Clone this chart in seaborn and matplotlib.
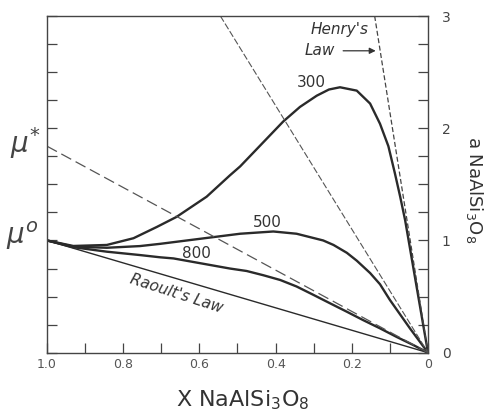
import numpy as np
import pandas as pd
import matplotlib
matplotlib.use("Agg")
import matplotlib.pyplot as plt
import seaborn as sns

# courbes (x = fraction molaire, y = activite)
x_300 = [1.0, 0.931, 0.843, 0.773, 0.712, 0.66, 0.581, 0.52, 0.493, 0.38, 0.336, 0.292, 0.26, 0.231,
         0.187, 0.152, 0.126, 0.104, 0.087, 0.073, 0.06, 0.03, 0.0]
y_300 = [1.0, 0.951, 0.96, 1.02, 1.12, 1.21, 1.39, 1.58, 1.66, 2.06, 2.19, 2.29, 2.345, 2.365,
         2.335, 2.22, 2.04, 1.84, 1.60, 1.39, 1.18, 0.59, 0.0]

x_500 = [1.0, 0.931, 0.843, 0.756, 0.703, 0.563, 0.493, 0.406, 0.345, 0.275, 0.248, 0.213,
         0.187, 0.152, 0.126, 0.10, 0.073, 0.047, 0.0]
y_500 = [1.0, 0.945, 0.935, 0.95, 0.97, 1.03, 1.06, 1.08, 1.06, 1.00, 0.96, 0.89,
         0.82, 0.71, 0.61, 0.47, 0.34, 0.215, 0.0]

x_800 = [1.0, 0.931, 0.843, 0.756, 0.703, 0.668, 0.52, 0.476, 0.432, 0.388, 0.345, 0.30,
         0.257, 0.213, 0.17, 0.126, 0.082, 0.039, 0.0]
y_800 = [1.0, 0.94, 0.90, 0.87, 0.85, 0.84, 0.75, 0.728, 0.69, 0.648, 0.59, 0.514,
         0.44, 0.365, 0.29, 0.217, 0.14, 0.069, 0.0]

# loi de Raoult et tangentes (droites passant par l'origine)
raoult_x = [1.0, 0.0]
raoult_y = [1.0, 0.0]
mu_star_x = [1.0, 0.0]
mu_star_y = [1.84, 0.0]
henry_x = [0.14, 0.0]
henry_y = [3.0, 0.0]
tang500_x = [0.545, 0.0]
tang500_y = [3.0, 0.0]

temperatures = ["300", "500", "800"]
xtick_vals = [1.0, 0.8, 0.6, 0.4, 0.2, 0.0]
xtick_labels = ["1.0", "0.8", "0.6", "0.4", "0.2", "0"]
ytick_labels = ["0", "1", "2", "3"]

df = pd.concat([
    pd.DataFrame({"x": x_300, "y": y_300, "T": "300"}),
    pd.DataFrame({"x": x_500, "y": y_500, "T": "500"}),
    pd.DataFrame({"x": x_800, "y": y_800, "T": "800"}),
])

sns.set_style("ticks")
plt.rcParams["font.family"] = ["DejaVu Sans"]

fig = plt.figure(figsize=(4.87, 4.18), dpi=100)
ax = fig.add_axes([47 / 487, 1 - 352.7 / 418, 381 / 487, 336.7 / 418])

for t in temperatures:
    sns.lineplot(data=df[df["T"] == t], x="x", y="y", sort=False, estimator=None,
                 color="#2a2a2a", lw=1.7, ax=ax, solid_joinstyle="round")

sns.lineplot(x=raoult_x, y=raoult_y, color="#2a2a2a", lw=1.0, ax=ax)
ax.plot(mu_star_x, mu_star_y, color="#555555", lw=0.9, ls=(0, (9, 4)))
ax.plot(henry_x, henry_y, color="#444444", lw=0.9, ls=(0, (4, 2)))
ax.plot(tang500_x, tang500_y, color="#555555", lw=0.8, ls=(0, (6, 2)))

ax.set_xlim(1.0, 0.0)
ax.set_ylim(0, 3)

ax.set_xticks(xtick_vals)
ax.set_xticklabels(xtick_labels, fontsize=9, color="#555555")
ax.set_xticks(np.arange(0.1, 1.0, 0.2), minor=True)

ticks_y = np.arange(0, 3.01, 0.25)
ax.set_yticks(ticks_y)
ax.set_yticklabels([ytick_labels[int(v)] if v == int(v) else "" for v in ticks_y],
                   fontsize=10, color="#444444")

ax.tick_params(axis="both", which="both", direction="in", length=7, width=0.9, color="#444444")
ax.tick_params(axis="y", left=True, right=True, labelleft=False, labelright=True, pad=10)
ax.tick_params(axis="x", top=False, pad=4)

for s in ax.spines.values():
    s.set_linewidth(1.0)
    s.set_color("#444444")

ax.set_xlabel("")
ax.set_ylabel("")

# annotations
ax.text(0.305, 2.41, "300", fontsize=11, ha="center", va="center", color="#333333")
ax.text(0.423, 1.16, "500", fontsize=11, ha="center", va="center", color="#333333")
ax.text(0.607, 0.886, "800", fontsize=11, ha="center", va="center", color="#333333")
ax.text(0.661, 0.53, "Raoult's Law", fontsize=11, ha="center", va="center",
        rotation=-18, style="italic", color="#333333")
ax.text(0.232, 2.88, "Henry's", fontsize=11, ha="center", va="center", style="italic", color="#333333")
ax.text(0.285, 2.69, "Law", fontsize=11, ha="center", va="center", style="italic", color="#333333")
ax.annotate("", xy=(0.13, 2.69), xytext=(0.23, 2.69),
            arrowprops=dict(arrowstyle="-|>", color="#333333", lw=0.9, mutation_scale=9))

fig.text(25 / 487, 1 - 143 / 418, r"$\mu^{*}$", fontsize=20, ha="center", va="center", color="#444444")
fig.text(22 / 487, 1 - 236 / 418, r"$\mu^{o}$", fontsize=20, ha="center", va="center", color="#444444")

fig.text(243 / 487, 1 - 400 / 418, r"X NaAlSi$_3$O$_8$", fontsize=16, ha="center", va="center", color="#333333")
fig.text(474 / 487, 1 - 190 / 418, r"a NaAlSi$_3$O$_8$", fontsize=13, ha="center", va="center",
         rotation=-90, color="#333333")

fig.savefig("out.png", dpi=100)
